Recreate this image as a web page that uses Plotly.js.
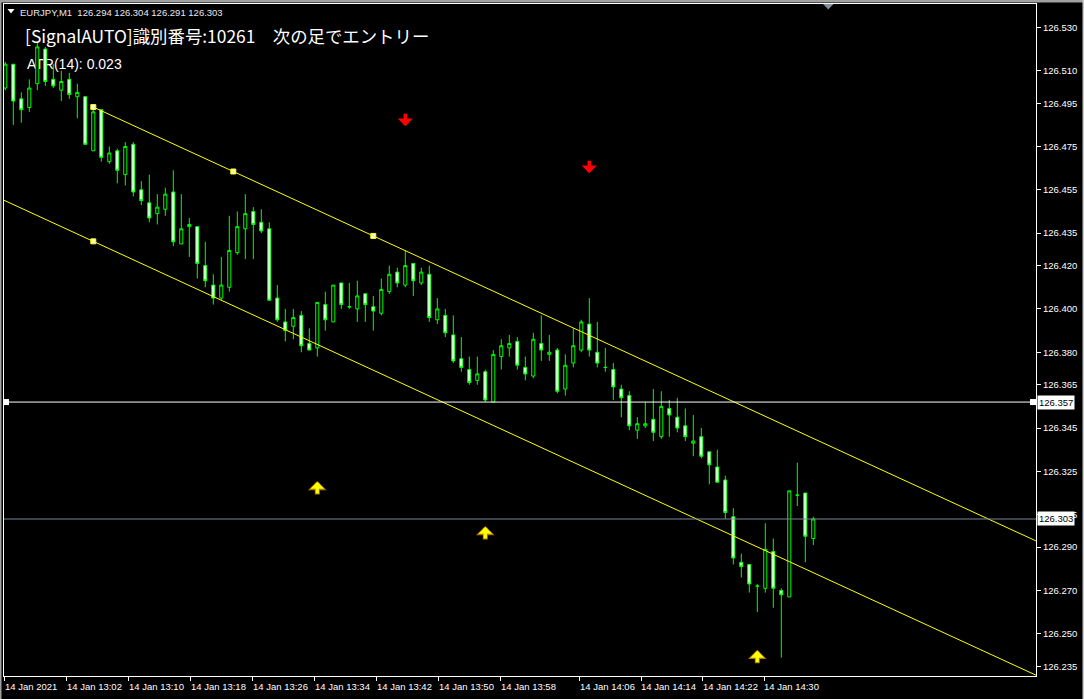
<!DOCTYPE html>
<html><head><meta charset="utf-8">
<script src="https://cdn.plot.ly/plotly-3.0.1.min.js"></script>
<style>html,body{margin:0;padding:0;background:#000;overflow:hidden}#chart{width:1084px;height:699px}</style>
</head><body><div id="chart"></div>
<script>
// ---- data (EURJPY, M1) ----
const opens = [126.502,126.513,126.497,126.493,126.504,126.520,126.506,126.501,126.506,126.498,
126.498,126.473,126.492,126.468,126.473,126.462,126.476,126.455,126.449,126.444,
126.446,126.454,126.430,126.438,126.438,126.420,126.411,126.405,126.410,126.426,
126.437,126.445,126.440,126.437,126.405,126.394,126.392,126.397,126.384,126.382,
126.402,126.394,126.412,126.401,126.400,126.407,126.401,126.398,126.408,126.417,
126.411,126.421,126.412,126.416,126.395,126.397,126.388,126.377,126.372,126.367,
126.371,126.357,126.378,126.382,126.385,126.373,126.369,126.384,126.379,126.381,
126.363,126.375,126.381,126.393,126.380,126.373,126.372,126.363,126.360,126.344,
126.346,126.349,126.341,126.354,126.350,126.346,126.338,126.341,126.334,126.327,
126.321,126.304,126.283,126.282,126.272,126.271,126.288,126.270,126.267,126.314,
126.315,126.294];
const highs = [126.514,126.513,126.500,126.506,126.523,126.521,126.513,126.510,126.509,126.504,
126.498,126.493,126.492,126.475,126.474,126.477,126.477,126.459,126.462,126.453,
126.456,126.464,126.453,126.442,126.438,126.431,126.416,126.424,126.443,126.445,
126.453,126.447,126.446,126.440,126.411,126.400,126.400,126.399,126.391,126.403,
126.408,126.411,126.412,126.412,126.413,126.407,126.406,126.414,126.420,126.419,
126.427,126.421,126.419,126.420,126.405,126.400,126.397,126.387,126.378,126.378,
126.372,126.381,126.386,126.388,126.387,126.378,126.389,126.397,126.388,126.382,
126.379,126.391,126.395,126.405,126.394,126.382,126.375,126.365,126.362,126.350,
126.357,126.363,126.362,126.358,126.359,126.354,126.351,126.345,126.334,126.335,
126.323,126.308,126.287,126.282,126.273,126.301,126.294,126.271,126.316,126.329,
126.315,126.304];
const lows = [126.501,126.485,126.486,126.491,126.501,126.503,126.502,126.496,126.497,126.488,
126.476,126.473,126.468,126.467,126.458,126.457,126.452,126.448,126.440,126.439,
126.443,126.429,126.430,126.424,126.414,126.410,126.402,126.404,126.408,126.425,
126.423,126.423,126.435,126.404,126.394,126.385,126.386,126.380,126.381,126.378,
126.390,126.394,126.400,126.400,126.394,126.394,126.390,126.397,126.407,126.410,
126.410,126.406,126.411,126.394,126.393,126.387,126.375,126.371,126.365,126.365,
126.357,126.357,126.372,126.378,126.372,126.367,126.368,126.376,126.376,126.361,
126.360,126.373,126.380,126.378,126.373,126.371,126.358,126.350,126.344,126.340,
126.345,126.339,126.340,126.341,126.343,126.339,126.332,126.331,126.319,126.320,
126.303,126.282,126.276,126.269,126.260,126.269,126.262,126.239,126.267,126.309,
126.283,126.291];
const closes = [126.513,126.496,126.492,126.502,126.521,126.505,126.503,126.505,126.499,126.500,
126.476,126.491,126.470,126.472,126.464,126.475,126.454,126.450,126.442,126.447,
126.453,126.431,126.437,126.439,126.421,126.413,126.405,126.411,126.427,126.438,
126.444,126.439,126.436,126.404,126.395,126.390,126.396,126.383,126.381,126.403,
126.395,126.411,126.402,126.401,126.406,126.402,126.399,126.409,126.416,126.412,
126.420,126.413,126.417,126.396,126.400,126.389,126.376,126.373,126.366,126.370,
126.358,126.379,126.383,126.384,126.374,126.370,126.386,126.381,126.380,126.362,
126.374,126.383,126.394,126.381,126.375,126.373,126.364,126.359,126.346,126.347,
126.347,126.343,126.355,126.351,126.345,126.341,126.339,126.332,126.328,126.320,
126.306,126.285,126.281,126.273,126.272,126.289,126.271,126.268,126.316,126.314,
126.295,126.303];

const yTickVals = [126.530,126.510,126.495,126.475,126.455,126.435,126.420,126.400,126.380,
126.365,126.345,126.325,126.305,126.290,126.270,126.250,126.235];
const xTickText = ["14 Jan 2021","14 Jan 13:02","14 Jan 13:10","14 Jan 13:18","14 Jan 13:26",
"14 Jan 13:34","14 Jan 13:42","14 Jan 13:50","14 Jan 13:58","14 Jan 14:06","14 Jan 14:14",
"14 Jan 14:22","14 Jan 14:30"];
const xTickPos = [-0.04,7.67,15.46,23.21,30.96,38.71,46.42,54.17,61.92,71.8,79.5,87.18,94.88];

// channel: two anchors of the main line + one anchor of the parallel line
const channelBars = [11, 46];
const channelPrices = [126.4932, 126.4337];
const channelParallelPrice = 126.4312; // at channelBars[0]

const hLinePrice = 126.357;
const sellBars = [50, 73];
const sellPrices = [126.4844, 126.4627];
const buyBars = [39, 60, 94];
const buyPrices = [126.3206, 126.2998, 126.2426];

const headerText = "EURJPY,M1  126.294 126.304 126.291 126.303";
const signalText = "[SignalAUTO]識別番号:10261　次の足でエントリー";
const atrText = "ATR(14): 0.023";

// ---- layout helpers ----
const W = 1084, H = 699, mL = 4, mR = 48, mT = 4, mB = 23;
const pw = W - mL - mR, ph = H - mT - mB;
const xRange = [-0.1625, 128.8375];
const yRange = [126.2305, 126.5408];
const px = x => (x - mL) / pw;       // pixel -> paper x
const py = y => (H - mB - y) / ph;   // pixel -> paper y
const bars = opens.map((_, i) => i);
const lastClose = closes[closes.length - 1];
const FONT = "Liberation Sans, Arial, sans-serif";
const FS = 9.5;

const slope = (channelPrices[1] - channelPrices[0]) / (channelBars[1] - channelBars[0]);
const lineAt = (base, b) => base + slope * (b - channelBars[0]);
const midBar = (channelBars[0] + channelBars[1]) / 2;

const traces = [
  {
    type: 'candlestick', x: bars, open: opens, high: highs, low: lows, close: closes,
    increasing: {line: {color: '#00ff00', width: 1}, fillcolor: '#000000'},
    decreasing: {line: {color: '#00ff00', width: 1}, fillcolor: '#ffffff'},
    whiskerwidth: 0, hoverinfo: 'skip', showlegend: false
  },
  {
    type: 'scatter', mode: 'markers', hoverinfo: 'skip', showlegend: false,
    x: [channelBars[0], midBar, channelBars[1], channelBars[0]],
    y: [channelPrices[0], lineAt(channelPrices[0], midBar), channelPrices[1], channelParallelPrice],
    marker: {symbol: 'square', size: 5, color: '#ffffff', line: {color: '#ffff00', width: 1}}
  }
];

const shapes = [
  // channel main line (ray to the right)
  {type: 'line', xref: 'x', yref: 'y', x0: channelBars[0], y0: channelPrices[0],
   x1: xRange[1], y1: lineAt(channelPrices[0], xRange[1]), line: {color: '#ffff00', width: 1}},
  // parallel line
  {type: 'line', xref: 'x', yref: 'y', x0: xRange[0], y0: lineAt(channelParallelPrice, xRange[0]),
   x1: xRange[1], y1: lineAt(channelParallelPrice, xRange[1]), line: {color: '#ffff00', width: 1}},
  // horizontal line
  {type: 'line', xref: 'paper', yref: 'y', x0: 0, x1: 1, y0: hLinePrice, y1: hLinePrice,
   line: {color: '#ffffff', width: 1}},
  {type: 'rect', xref: 'paper', yref: 'y', xsizemode: 'pixel', ysizemode: 'pixel', xanchor: 0, yanchor: hLinePrice,
   x0: -1, x1: 5, y0: -3, y1: 3, fillcolor: '#ffffff', line: {width: 0}},
  {type: 'rect', xref: 'paper', yref: 'y', xsizemode: 'pixel', ysizemode: 'pixel', xanchor: 1, yanchor: hLinePrice,
   x0: -6, x1: 0, y0: -3, y1: 3, fillcolor: '#ffffff', line: {width: 0}},
  // bid line
  {type: 'line', xref: 'paper', yref: 'y', x0: 0, x1: 1, y0: lastClose, y1: lastClose,
   line: {color: '#778899', width: 1}},
  // ATR text (under the candles)
  {type: 'rect', xref: 'paper', yref: 'paper', x0: px(24), x1: px(200), y0: py(70), y1: py(55),
   line: {width: 0}, fillcolor: 'rgba(0,0,0,0)', layer: 'below',
   label: {text: atrText, textposition: 'middle left', padding: 0,
           font: {color: '#ffffff', size: 14, family: 'Liberation Sans, sans-serif'}}},
  // chart shift marker
  {type: 'path', xref: 'paper', yref: 'paper',
   path: `M ${px(823)} ${py(4)} L ${px(833.5)} ${py(4)} L ${px(828.3)} ${py(9.5)} Z`,
   fillcolor: '#8090a0', line: {width: 0}},
  // header triangle
  {type: 'path', xref: 'paper', yref: 'paper',
   path: `M ${px(7.5)} ${py(9)} L ${px(14.5)} ${py(9)} L ${px(11)} ${py(13.5)} Z`,
   fillcolor: '#ffffff', line: {width: 0}},
  // window border
  {type: 'rect', xref: 'paper', yref: 'paper', x0: px(0), x1: px(W), y0: py(0), y1: py(2.5),
   fillcolor: '#a0a0a0', line: {width: 0}},
  {type: 'rect', xref: 'paper', yref: 'paper', x0: px(0), x1: px(1.5), y0: py(H), y1: py(0),
   fillcolor: '#a0a0a0', line: {width: 0}},
  {type: 'rect', xref: 'paper', yref: 'paper', x0: px(W - 1.5), x1: px(W), y0: py(H), y1: py(0),
   fillcolor: '#c8c8c8', line: {width: 0}}
];

const annotations = [];
xTickText.forEach((t, i) => annotations.push({
  x: xTickPos[i], xref: 'x', y: py(686), yref: 'paper', text: t, showarrow: false,
  xanchor: 'left', yanchor: 'middle', borderpad: 0, xshift: -1,
  font: {color: '#ffffff', size: FS, family: FONT}
}));
annotations.push({x: px(19), y: py(12.5), xref: 'paper', yref: 'paper', text: headerText,
  showarrow: false, xanchor: 'left', yanchor: 'middle', borderpad: 0,
  font: {color: '#e8e8f0', size: FS, family: FONT}});
annotations.push({x: px(24), y: py(35.5), xref: 'paper', yref: 'paper', text: signalText,
  showarrow: false, xanchor: 'left', yanchor: 'middle', borderpad: 0,
  font: {color: '#ffffff', size: 17.4, family: 'Noto Sans CJK JP, sans-serif'}});
[hLinePrice, lastClose].forEach(p => annotations.push({
  x: 1, xref: 'paper', y: p, yref: 'y', text: p.toFixed(3), showarrow: false,
  xanchor: 'left', yanchor: 'middle', bgcolor: '#ffffff', borderpad: 1, xshift: 1,
  font: {color: '#000000', size: FS, family: FONT}
}));
sellBars.forEach((b, i) => annotations.push({
  x: b, y: sellPrices[i], xref: 'x', yref: 'y', text: '', showarrow: true,
  ax: 0, ay: -14, arrowhead: 1, arrowsize: 0.72, arrowwidth: 3.5, arrowcolor: '#ff0000'
}));
buyBars.forEach((b, i) => {
  annotations.push({
    x: b, y: buyPrices[i], xref: 'x', yref: 'y', text: '', showarrow: true,
    ax: 0, ay: 15, arrowhead: 1, arrowsize: 0.62, arrowwidth: 5, arrowcolor: '#b07800'
  });
  annotations.push({
    x: b, y: buyPrices[i], xref: 'x', yref: 'y', text: '', showarrow: true, standoff: 1,
    ax: 0, ay: 14, arrowhead: 1, arrowsize: 0.72, arrowwidth: 3.2, arrowcolor: '#ffff00'
  });
});

const layout = {
  width: W, height: H,
  margin: {l: mL, r: mR, t: mT, b: mB, pad: 0},
  paper_bgcolor: '#000000', plot_bgcolor: '#000000',
  showlegend: false, boxgap: 0.45, dragmode: false,
  xaxis: {
    range: xRange, type: 'linear', rangeslider: {visible: false},
    showgrid: false, zeroline: false, showline: true, mirror: true, linecolor: '#ffffff', linewidth: 1,
    tickmode: 'array', tickvals: xTickPos, showticklabels: false,
    ticks: 'outside', ticklen: 4, tickcolor: '#ffffff', tickwidth: 1, automargin: false
  },
  yaxis: {
    range: yRange, side: 'right',
    showgrid: false, zeroline: false, showline: true, mirror: true, linecolor: '#ffffff', linewidth: 1,
    tickmode: 'array', tickvals: yTickVals, tickformat: '.3f',
    ticks: 'outside', ticklen: 4, tickcolor: '#ffffff', tickwidth: 1, automargin: false,
    tickfont: {color: '#ffffff', size: FS, family: FONT}
  },
  shapes: shapes, annotations: annotations
};

Plotly.newPlot('chart', traces, layout, {staticPlot: true, displayModeBar: false});
</script>
</body></html>
